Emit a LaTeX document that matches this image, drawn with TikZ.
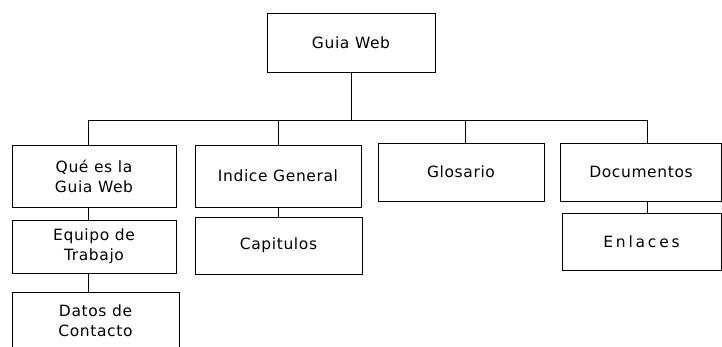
\documentclass[tikz,border=0pt]{standalone}
\usepackage{fontspec}
\setmainfont{DejaVu Sans}[LetterSpace=4]
\begin{document}
\begin{tikzpicture}[x=1pt,y=-1pt,
  box/.style={draw=black,line width=0.8pt,rectangle,inner sep=0pt,align=center,
    font=\fontsize{15.5}{20}\selectfont},
  conn/.style={draw=black,line width=0.8pt}]
\useasboundingbox (0,0) rectangle (722,347);
\node[box,minimum width=168pt,minimum height=59pt] (top) at (351,42.5) {Guia Web};
\node[box,minimum width=164pt,minimum height=62pt] (que) at (94,176) {Qué es la\\Guia Web};
\node[box,minimum width=166pt,minimum height=62pt] (ind) at (278,176) {Indice General};
\node[box,minimum width=166pt,minimum height=58pt] (glo) at (461,172) {Glosario};
\node[box,minimum width=161pt,minimum height=58pt] (doc) at (641,172) {Documentos};
\node[box,minimum width=164pt,minimum height=53pt] (equ) at (94,246.5) {Equipo de\\Trabajo};
\node[box,minimum width=167pt,minimum height=57pt] (cap) at (278.5,245.5) {Capitulos};
\node[box,minimum width=159pt,minimum height=57pt] (enl) at (641.5,241.5) {\addfontfeatures{LetterSpace=18}Enlaces};
\node[box,minimum width=167pt,minimum height=58pt] (dat) at (95.5,321) {Datos de\\Contacto};
\coordinate (b0) at (351,120);
\coordinate (b1) at (88,120);
\coordinate (b2) at (278,120);
\coordinate (b3) at (465,120);
\coordinate (b4) at (647,120);
\draw[conn] (top.south) -- (b0);
\draw[conn] (b1) -- (b4);
\draw[conn] (b1) -- (b1 |- que.north);
\draw[conn] (b2) -- (b2 |- ind.north);
\draw[conn] (b3) -- (b3 |- glo.north);
\draw[conn] (b4) -- (b4 |- doc.north);
\draw[conn] (b1 |- que.south) -- (b1 |- equ.north);
\draw[conn] (b2 |- ind.south) -- (b2 |- cap.north);
\draw[conn] (b4 |- doc.south) -- (b4 |- enl.north);
\draw[conn] (b1 |- equ.south) -- (b1 |- dat.north);
\end{tikzpicture}
\end{document}
